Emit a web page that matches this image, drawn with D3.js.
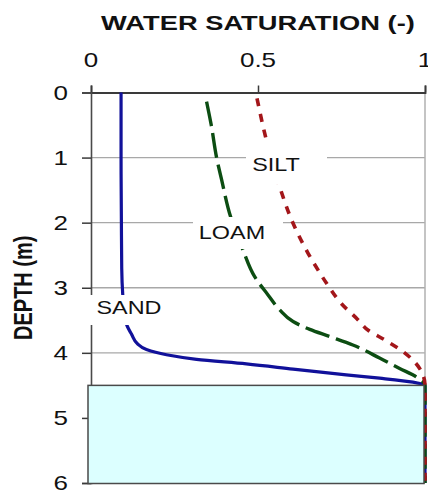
<!DOCTYPE html>
<html>
<head>
<meta charset="utf-8">
<script src="https://cdn.jsdelivr.net/npm/d3@7"></script>
<style>
  html, body { margin: 0; padding: 0; background: #fff; }
  svg { display: block; }
  text { font-family: "Liberation Sans", Arial, sans-serif; fill: #111; }
</style>
</head>
<body>
<svg id="chart" width="428" height="492"></svg>
<script>
// Soil water saturation profiles above a water table
const depthTicks = [0, 1, 2, 3, 4, 5, 6];
const depthTickLabels = ["0", "1", "2", "3", "4", "5", "6"];
const satTicks = [0, 0.5, 1];
const satTickLabels = ["0", "0.5", "1"];

const sandDepth = [0, 1, 2, 2.7, 3.1, 3.4, 3.57, 3.72, 3.86, 3.95, 4.03, 4.10, 4.17, 4.25, 4.34, 4.39, 4.45, 4.5, 6];
const sandSat   = [0.09, 0.09, 0.091, 0.092, 0.095, 0.1, 0.107, 0.122, 0.139, 0.166, 0.226, 0.316, 0.465, 0.605, 0.764, 0.864, 0.964, 1, 1];

const loamDepth = [0.14, 0.5, 1, 1.34, 1.91, 2.42, 2.83, 3.11, 3.34, 3.52, 3.64, 3.75, 3.88, 4.08, 4.24, 4.37, 4.5, 6];
const loamSat   = [0.346, 0.36, 0.376, 0.391, 0.418, 0.455, 0.49, 0.53, 0.565, 0.605, 0.655, 0.715, 0.784, 0.864, 0.924, 0.974, 1, 1];

const siltDepth = [0.09, 0.73, 1.45, 2.01, 2.47, 2.73, 2.96, 3.24, 3.49, 3.65, 3.8, 4.0, 4.24, 4.5, 6];
const siltSat   = [0.497, 0.525, 0.565, 0.605, 0.65, 0.68, 0.709, 0.749, 0.799, 0.829, 0.879, 0.939, 0.984, 1, 1];

const waterTable = [4.5, 6];   // saturated zone, depth from / to
const soilNames = ["SILT", "LOAM", "SAND"];

const svg = d3.select("#chart");
const SX = 1.3;               // horizontal text stretch
const plotL = 91, plotR = 425, plotT = 92.5, plotB = 483;

const x = d3.scaleLinear().domain([0, 1]).range([plotL, plotR]);
const y = d3.scaleLinear().domain([0, 6]).range([plotT, plotB]);

function label(g, px, py, str, anchor, size, weight) {
  return g.append("text")
    .attr("transform", `translate(${px},${py}) scale(${SX},1)`)
    .attr("text-anchor", anchor)
    .attr("font-size", size)
    .attr("font-weight", weight || "normal")
    .text(str);
}

// horizontal gridlines
svg.append("g").selectAll("line").data(depthTicks.slice(1)).join("line")
  .attr("x1", plotL).attr("x2", plotR)
  .attr("y1", d => y(d)).attr("y2", d => y(d))
  .attr("stroke", "#a8a8a8").attr("stroke-width", 1.4);

// right frame edge
svg.append("line")
  .attr("x1", plotR).attr("x2", plotR).attr("y1", plotT).attr("y2", plotB)
  .attr("stroke", "#b0b0b0").attr("stroke-width", 1.5);

// top axis (saturation)
const xAxis = d3.axisTop(x).tickValues(satTicks).tickSize(7).tickFormat("");
svg.append("g").attr("transform", `translate(0,${plotT})`).call(xAxis)
  .call(g => g.select(".domain").attr("stroke", "#3a3a3a").attr("stroke-width", 1.8))
  .call(g => g.selectAll(".tick line").attr("stroke", "#3a3a3a").attr("stroke-width", 1.5));

// left axis (depth)
const yAxis = d3.axisLeft(y).tickValues(depthTicks).tickSize(9).tickFormat("");
svg.append("g").attr("transform", `translate(${plotL},0)`).call(yAxis)
  .call(g => g.select(".domain").attr("stroke", "#4a4a4a").attr("stroke-width", 1.6))
  .call(g => g.selectAll(".tick line").attr("stroke", "#3a3a3a").attr("stroke-width", 1.5));

// tick labels
const tl = svg.append("g");
satTicks.forEach((v, i) => label(tl, x(v), 66.5, satTickLabels[i], "middle", 20));
depthTicks.forEach((v, i) => label(tl, 68, y(v) + 7, depthTickLabels[i], "end", 20));

// axis titles
label(svg, (plotL + plotR) / 2, 30, "WATER SATURATION (-)", "middle", 21, "bold");
svg.append("text")
  .attr("transform", `translate(31.7,${(plotT + plotB) / 2}) scale(${SX},1) rotate(-90)`)
  .attr("text-anchor", "middle")
  .attr("font-size", 20)
  .attr("font-weight", "bold")
  .text("DEPTH (m)");

// saturation curves
const line = (ds, ss) => d3.line()
  .x((d, i) => x(ss[i]))
  .y(d => y(d))
  .curve(d3.curveMonotoneY)(ds);

svg.append("path").attr("d", line(sandDepth, sandSat))
  .attr("fill", "none").attr("stroke", "#11119a").attr("stroke-width", 3.2);
svg.append("path").attr("d", line(loamDepth, loamSat))
  .attr("fill", "none").attr("stroke", "#0c4d12").attr("stroke-width", 3.4)
  .attr("stroke-dasharray", "25,7");
svg.append("path").attr("d", line(siltDepth, siltSat))
  .attr("fill", "none").attr("stroke", "#a3161a").attr("stroke-width", 3.6)
  .attr("stroke-dasharray", "8,8");

// soil type labels on white backgrounds
const boxes = [
  { x0: 246, x1: 327, y0: 143, y1: 184, tx: 276, ty: 170.5 },
  { x0: 193, x1: 283, y0: 217, y1: 249, tx: 232, ty: 238.5 },
  { x0: 90,  x1: 168, y0: 295, y1: 325, tx: 129, ty: 313.5 }
];
const lg = svg.append("g");
boxes.forEach((b, i) => {
  lg.append("rect").attr("x", b.x0).attr("y", b.y0)
    .attr("width", b.x1 - b.x0).attr("height", b.y1 - b.y0).attr("fill", "#fff");
  label(lg, b.tx, b.ty, soilNames[i], "middle", 18);
});

// saturated zone below the water table
svg.append("rect")
  .attr("x", x(0) - 3).attr("y", y(waterTable[0]))
  .attr("width", x(1) - x(0) + 2)
  .attr("height", y(waterTable[1]) - y(waterTable[0]) + 0.5)
  .attr("fill", "#dcffff").attr("stroke", "#4a4a4a").attr("stroke-width", 1.5);
</script>
</body>
</html>
